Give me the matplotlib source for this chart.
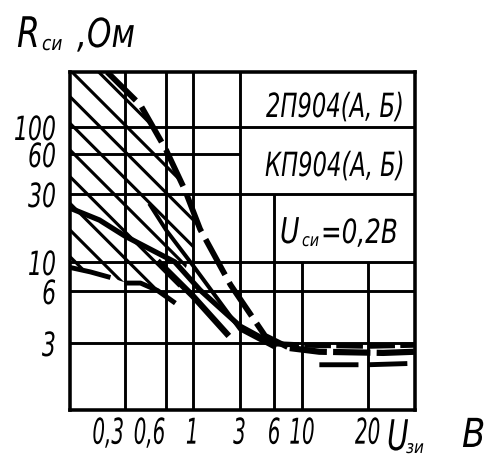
import numpy as np
import matplotlib
matplotlib.use('Agg')
import matplotlib.pyplot as plt
from matplotlib.ticker import FixedLocator, NullLocator, FixedFormatter
from matplotlib.patheffects import AbstractPathEffect
from matplotlib.transforms import Affine2D, Bbox

# ---------------- data ----------------
x_ticks = [0.3, 0.6, 1, 3, 6, 10, 20]
x_tick_labels = ['0,3', '0,6', '1', '3', '6', '10', '20']
y_ticks = [3, 6, 10, 30, 60, 100]
y_tick_labels = ['3', '6', '10', '30', '60', '100']

# upper boundary curve (dashed)
u_x = [0.21, 0.39, 0.6, 0.86, 1.18, 2.4, 5.0, 8.0]
u_y = [250, 144, 65, 32, 17, 6.7, 3.3, 2.76]
# main curve from left edge
m1_x = [0.1, 0.18, 0.3, 0.71, 1.18, 3.0, 5.8]
m1_y = [23.9, 19.7, 15.2, 10, 6.1, 3.76, 2.97]
# steep middle line
a_x = [0.46, 0.6, 1.0, 3.0, 6.0]
a_y = [25, 16.8, 9.4, 3.6, 2.8]
# lower thick segment
d_x = [0.54, 1.0, 2.2]
d_y = [9.8, 5.6, 3.4]
# short lower curves
c_x = [0.31, 0.39, 0.52, 0.69]
c_y = [6.9, 6.9, 6.05, 5.2]
s_x = [0.105, 0.15, 0.214]
s_y = [9.0, 8.4, 7.7]
# flat tails at high voltage
f1_x = [5.8, 10, 20, 40]
f1_y = [2.97, 2.9, 2.85, 2.9]
f2_x = [8, 12, 25, 40]
f2_y = [2.76, 2.6, 2.55, 2.6]
f3_x = [12, 20, 40]
f3_y = [2.1, 2.1, 2.15]

# ---------------- scale definition (hand-drawn axis) ----------------
XMIN, XMAX = 0.1, 40
YMIN, YMAX = 1, 250
XK_VAL = np.log10([0.1, 0.3, 0.6, 1, 3, 6, 10, 20, 40])
XK_POS = np.array([0, 55, 96, 123, 170, 204, 232, 298, 345]) / 345
YK_VAL = np.log10([1, 3, 6, 10, 30, 60, 100, 250])
YK_POS = np.array([0, 67, 119, 148, 216, 256, 283, 338]) / 338


def fx(v):
    return np.interp(np.log10(np.maximum(v, 1e-9)), XK_VAL, XK_POS)


def ix(p):
    return 10 ** np.interp(p, XK_POS, XK_VAL)


def fy(v):
    return np.interp(np.log10(np.maximum(v, 1e-9)), YK_VAL, YK_POS)


def iy(p):
    return 10 ** np.interp(p, YK_POS, YK_VAL)


class Squeeze(AbstractPathEffect):
    """Horizontally condense text glyphs (drafting-style narrow lettering)."""

    def __init__(self, sx, anchor='left'):
        super().__init__()
        self.sx = sx
        self.anchor = anchor

    def draw_path(self, renderer, gc, tpath, affine, rgbFace=None):
        ext = tpath.get_extents()
        if self.anchor == 'center':
            cx = (ext.x0 + ext.x1) / 2
        elif self.anchor == 'right':
            cx = ext.x1
        else:
            cx = 0
        t = Affine2D().translate(-cx, 0).scale(self.sx, 1).translate(cx, 0) + affine
        renderer.draw_path(gc, tpath, t, rgbFace)


def condense(t, sx, anchor='left'):
    """Condense a text and report the condensed extent as its window extent."""
    t.set_path_effects([Squeeze(sx, anchor)])
    orig = t.get_window_extent

    def gwe(renderer=None, dpi=None):
        bb = orig(renderer, dpi)
        w = (bb.x1 - bb.x0) * sx
        if anchor == 'right':
            x0 = bb.x1 - w
        elif anchor == 'center':
            x0 = (bb.x0 + bb.x1) / 2 - w / 2
        else:
            x0 = bb.x0
        return Bbox.from_extents(x0, bb.y0, x0 + w, bb.y1)

    t.get_window_extent = gwe
    return t


FONT = ['DejaVu Sans']
plt.rcParams['font.family'] = FONT
plt.rcParams['font.style'] = 'italic'
plt.rcParams['hatch.linewidth'] = 1.4

DPI = 160
W, H = 492, 462
fig = plt.figure(figsize=(W / DPI, H / DPI), dpi=DPI)
ax = fig.add_axes([70 / W, 1 - 410 / H, 345 / W, 338 / H])
ax.set_xscale('function', functions=(fx, ix))
ax.set_yscale('function', functions=(fy, iy))
ax.set_xlim(XMIN, XMAX)
ax.set_ylim(YMIN, YMAX)

# grid (hand-drawn style, some lines interrupted by label boxes)
glw = 1.3
ax.vlines([0.3, 0.6, 1, 3], YMIN, YMAX, color='black', lw=glw)
ax.vlines([6], YMIN, 30, color='black', lw=glw)
ax.vlines([10, 20], YMIN, 10, color='black', lw=glw)
ax.hlines([100, 30, 10, 6, 3], XMIN, XMAX, color='black', lw=glw)
ax.hlines([60], XMIN, 3, color='black', lw=glw)

# hatched region
hx = [XMIN] + u_x[:5] + c_x[::-1] + s_x[::-1] + [XMIN]
hy = [YMAX] + u_y[:5] + c_y[::-1] + s_y[::-1] + [s_y[0]]
ax.fill(hx, hy, facecolor='none', edgecolor='black', hatch='\\\\', linewidth=0)

# curves
ax.plot(u_x, u_y, color='black', lw=2.6, ls=(0, (7, 1.5)), solid_capstyle='round')
ax.plot(m1_x, m1_y, color='black', lw=2.4)
ax.plot(a_x, a_y, color='black', lw=1.8)
ax.plot(d_x, d_y, color='black', lw=2.8)
ax.plot(c_x, c_y, color='black', lw=2.2)
ax.plot(s_x, s_y, color='black', lw=2.2)
ax.plot(f1_x, f1_y, color='black', lw=2.4, ls=(0, (5, 1)))
ax.plot(f2_x, f2_y, color='black', lw=2.8, ls=(0, (6, 1)))
ax.plot(f3_x, f3_y, color='black', lw=2.2, ls=(0, (8, 2)))

# ticks
ax.xaxis.set_major_locator(FixedLocator(x_ticks))
ax.xaxis.set_major_formatter(FixedFormatter(x_tick_labels))
ax.xaxis.set_minor_locator(NullLocator())
ax.yaxis.set_major_locator(FixedLocator(y_ticks))
ax.yaxis.set_major_formatter(FixedFormatter(y_tick_labels))
ax.yaxis.set_minor_locator(NullLocator())
ax.tick_params(axis='x', length=0, labelsize=16, pad=3)
ax.tick_params(axis='y', length=0, labelsize=15, pad=6)
for sp in ax.spines.values():
    sp.set_linewidth(1.6)

fig.canvas.draw()
for i, lbl in enumerate(ax.get_xticklabels()):
    if i < 2:
        lbl.set_horizontalalignment('right')
        condense(lbl, 0.56, 'right')
    else:
        condense(lbl, 0.56, 'center')
for lbl in ax.get_yticklabels():
    condense(lbl, 0.66, 'right')


def put(px, py, s, size, sx):
    """Place condensed text with its left baseline at pixel (px, py)."""
    t = fig.text(px / W, 1 - py / H, s, ha='left', va='baseline',
                 fontsize=size, style='italic')
    return condense(t, sx, 'left')


# box labels
put(266, 117, '2П904(А, Б)', 15, 0.68)
put(265, 176, 'КП904(А, Б)', 15, 0.68)
put(280, 243, 'U', 16, 0.75)
put(302, 246, 'си', 8, 0.8)
put(321, 243, '=0,2В', 15, 0.74)

# y axis label
put(17, 47, 'R', 19, 0.78)
put(42, 50, 'си', 9, 0.85)
put(77, 47, ',Ом', 18, 0.78)

# x axis label
put(387, 450, 'U', 19, 0.7)
put(406, 453, 'зи', 8, 0.85)
put(462, 447, 'В', 18, 0.85)

fig.savefig('out.png', dpi=DPI, facecolor='white')
